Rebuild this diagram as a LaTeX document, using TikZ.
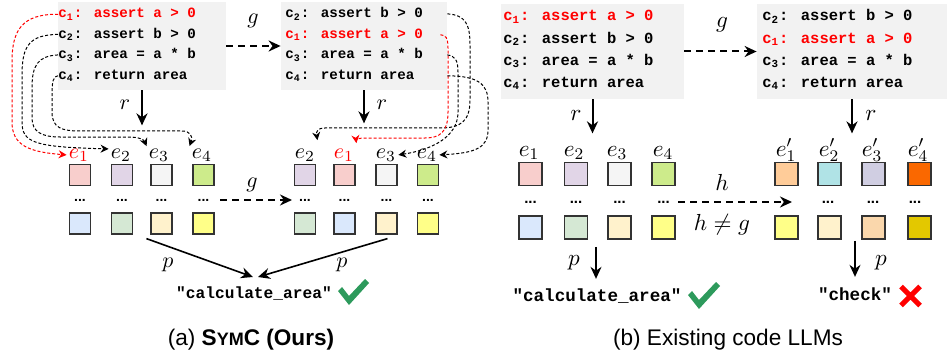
\RequirePackage{fix-cm}
\documentclass[tikz,border=0pt]{standalone}
\usepackage[no-math]{fontspec}
\setmainfont{Liberation Sans}
\newfontfamily\codefont{Liberation Mono}
\usetikzlibrary{arrows.meta,calc}

\definecolor{boxgray}{HTML}{F2F2F2}
\definecolor{sqedge}{HTML}{333333}
\definecolor{sqpink}{HTML}{F8CECC}
\definecolor{sqpurple}{HTML}{E1D5E7}
\definecolor{sqwhite}{HTML}{F5F5F5}
\definecolor{sqlime}{HTML}{CDEB8B}
\definecolor{sqblue}{HTML}{DAE8FC}
\definecolor{sqgreen}{HTML}{D5E8D4}
\definecolor{sqcream}{HTML}{FFF2CC}
\definecolor{sqyellow}{HTML}{FFFF88}
\definecolor{sqpeach}{HTML}{FFCC99}
\definecolor{sqcyan}{HTML}{B0E3E6}
\definecolor{sqlav}{HTML}{D0CEE2}
\definecolor{sqorange}{HTML}{FA6800}
\definecolor{sqtan}{HTML}{FAD7AC}
\definecolor{sqgold}{HTML}{E3C800}
\definecolor{okgreen}{HTML}{2D9A5C}
\definecolor{hotred}{HTML}{FF0000}

\tikzset{
  codebox/.style={fill=boxgray, draw=none, inner sep=0pt},
  codeA/.style={font=\codefont\bfseries\fontsize{7.1pt}{8.5pt}\selectfont, anchor=base west, inner sep=0pt},
  codeB/.style={font=\codefont\bfseries\fontsize{7.75pt}{9pt}\selectfont, anchor=base west, inner sep=0pt},
  outA/.style={font=\codefont\bfseries\fontsize{8.1pt}{9.5pt}\selectfont, anchor=base, inner sep=1pt},
  outB/.style={font=\codefont\bfseries\fontsize{8.8pt}{10pt}\selectfont, anchor=base, inner sep=1pt},
  sqA/.style={draw=sqedge, line width=0.6pt, minimum size=10.5pt, inner sep=0pt},
  sqB/.style={sqA, minimum size=11.5pt},
  dotsA/.style={font=\bfseries\fontsize{7pt}{8pt}\selectfont, anchor=base, inner sep=0pt},
  dotsB/.style={font=\bfseries\fontsize{7.5pt}{8pt}\selectfont, anchor=base, inner sep=0pt},
  mathA/.style={font=\fontsize{11pt}{13pt}\selectfont, anchor=base, inner sep=1pt},
  mathB/.style={font=\fontsize{11.6pt}{14pt}\selectfont, anchor=base, inner sep=1pt},
  link/.style={line width=0.5pt, dash pattern=on 1.5pt off 1pt, -{Stealth[length=4pt,width=4pt]}},
  mapto/.style={line width=1pt, -{Stealth[length=6pt,width=5.5pt]}},
  mapdash/.style={mapto, dash pattern=on 3.5pt off 2.5pt},
  proj/.style={line width=0.8pt, -{Stealth[length=6pt,width=5.5pt]}},
  capt/.style={font=\fontsize{11.3pt}{13.5pt}\selectfont, anchor=base, inner sep=0pt},
}

\begin{document}
\begin{tikzpicture}[x=0.5pt,y=-0.5pt]
\useasboundingbox (0,0) rectangle (947,358);

% ---------------- (a) SymC ----------------
% source program
\node[codebox, minimum width=84pt, minimum height=44pt] (box1) at (142,46) {};
\node[codeA, text=hotred] (L1) at (58,18)   {c\textsubscript{1}: assert a > 0};
\node[codeA] (L2) at (58,38.5) {c\textsubscript{2}: assert b > 0};
\node[codeA] (L3) at (58,59)   {c\textsubscript{3}: area = a * b};
\node[codeA] (L4) at (58,79.5) {c\textsubscript{4}: return area};

% permuted program
\node[codebox, minimum width=83pt, minimum height=44pt] (box2) at (364,46) {};
\node[codeA] (M1) at (285,18)   {c\textsubscript{2}: assert b > 0};
\node[codeA, text=hotred] (M2) at (285,38.5) {c\textsubscript{1}: assert a > 0};
\node[codeA] (M3) at (285,59)   {c\textsubscript{3}: area = a * b};
\node[codeA] (M4) at (285,79.5) {c\textsubscript{4}: return area};

\draw[mapdash] (box1.east) -- (box2.west);
\node[mathA] (gtopA) at (253,24) {$g$};

\draw[mapto] (box1.south) -- ++(0,35) coordinate (rA1);
\node[mathA] (rlA1) at (125,110) {$r$};
\draw[mapto] (box2.south) -- ++(0,33) coordinate (rA2);
\node[mathA] (rlA2) at (382,110) {$r$};

% embeddings of the source program
\foreach \n/\x/\ct/\cb in {1/80/sqpink/sqblue, 2/122/sqpurple/sqgreen, 3/161.5/sqwhite/sqcream, 4/203.5/sqlime/sqyellow}{
  \node[sqA, fill=\ct] (aT\n) at (\x,175) {};
  \node[dotsA] (aD\n) at (\x,201.5) {...};
  \node[sqA, fill=\cb] (aB\n) at (\x,223.5) {};
}
\node[mathA, text=hotred] (ea1) at (79,158) {$e_1$};
\node[mathA] (ea2) at (121,158) {$e_2$};
\node[mathA] (ea3) at (159,158) {$e_3$};
\node[mathA] (ea4) at (202,158) {$e_4$};

% embeddings of the permuted program
\foreach \n/\x/\ct/\cb in {1/305/sqpurple/sqgreen, 2/344.5/sqpink/sqblue, 3/386.5/sqwhite/sqcream, 4/428/sqlime/sqyellow}{
  \node[sqA, fill=\ct] (gT\n) at (\x,175) {};
  \node[dotsA] (gD\n) at (\x,201.5) {...};
  \node[sqA, fill=\cb] (gB\n) at (\x,223.5) {};
}
\node[mathA] (eg2) at (305,158) {$e_2$};
\node[mathA, text=hotred] (eg1) at (344,158) {$e_1$};
\node[mathA] (eg3) at (386,158) {$e_3$};
\node[mathA] (eg4) at (427,158) {$e_4$};

\coordinate (gl0) at (220,200);
\coordinate (gl1) at (292,200);
\draw[mapdash] (gl0) -- (gl1);
\node[mathA] (gbotA) at (252,187) {$g$};

% statement-to-embedding links, source program
\draw[link, hotred] (L1.west) .. controls (22,14) and (12,30) .. (12,62) -- (12,122)
  .. controls (12,146) and (30,152) .. (ea1.west);
\draw[link] (L2.west) .. controls (30,35) and (22,45) .. (22,75) -- (22,122)
  .. controls (22,143) and (35,147) .. ($(ea2.west)+(0,-6)$);
\draw[link] (L3.west) .. controls (38,56) and (32,65) .. (32,88) -- (32,118)
  .. controls (32,132) and (42,137) .. (60,137) -- (128,137)
  .. controls (140,137) and (144,140) .. (ea3.north west);
\draw[link] (L4.west) .. controls (53,76) and (52,82) .. (52,95) -- (52,112)
  .. controls (52,128) and (62,131) .. (80,131) -- (182,131)
  .. controls (190,131) and (193,136) .. (ea4.north west);

% statement-to-embedding links, permuted program
\draw[link] (box2.east |- M1.east) .. controls (466,15) and (470,25) .. (470,45) -- (470,100)
  .. controls (470,122) and (460,128) .. (440,128) -- (325,128)
  .. controls (318,128) and (316,131) .. ($(eg2.north east)+(0,-6)$);
\draw[link, hotred] ($(box2.east |- M2.east)+(-7,0)$) .. controls (446,35) and (448,38) .. (448,48) -- (448,112)
  .. controls (448,132) and (440,138) .. (425,138) -- (365,138)
  .. controls (358,138) and (356,140) .. ($(eg1.north east)+(0,-3)$);
\draw[link] (box2.east |- M3.east) .. controls (455,56) and (458,60) .. (458,72) -- (458,112)
  .. controls (458,138) and (430,150) .. (eg3.east);
\draw[link] (box2.east |- M4.east) .. controls (478,76) and (488,84) .. (488,102) -- (488,130)
  .. controls (488,148) and (475,153) .. (eg4.east);

% prediction
\node[outA] (outA) at (254,298) {"calculate\_area"};
\coordinate (pA0) at (253,277);
\coordinate (pA1) at (258,277);
\draw[proj] ($(aB3.south west)+(-4,4)$) -- (pA0);
\draw[proj] ($(gB3.south)+(1,4)$) -- (pA1);
\node[mathA] (plA1) at (168,267) {$p$};
\node[mathA] (plA2) at (342,267) {$p$};
\fill[okgreen] (338,291) -- (349,305) -- (369,283) -- (365,279) -- (349,296) -- (342,287) -- cycle;

\node[capt] (capA) at (251,345) {(a) \textbf{S{\fontsize{9pt}{10pt}\selectfont YM}C (Ours)}};

% ---------------- (b) Existing code LLMs ----------------
\node[codebox, minimum width=91.5pt, minimum height=47.5pt] (box3) at (592.5,51.5) {};
\node[codeB, text=hotred] (N1) at (503,21)   {c\textsubscript{1}: assert a > 0};
\node[codeB] (N2) at (503,43.2) {c\textsubscript{2}: assert b > 0};
\node[codeB] (N3) at (503,65.4) {c\textsubscript{3}: area = a * b};
\node[codeB] (N4) at (503,87.6) {c\textsubscript{4}: return area};

\node[codebox, minimum width=95pt, minimum height=47.5pt] (box4) at (852,51.5) {};
\node[codeB] (P1) at (762,21)   {c\textsubscript{2}: assert b > 0};
\node[codeB, text=hotred] (P2) at (762,43.2) {c\textsubscript{1}: assert a > 0};
\node[codeB] (P3) at (762,65.4) {c\textsubscript{3}: area = a * b};
\node[codeB] (P4) at (762,87.6) {c\textsubscript{4}: return area};

\draw[mapdash] (box3.east) -- (box4.west);
\node[mathB] (gtopB) at (722,27.5) {$g$};

\draw[mapto] (box3.south) -- ++(0,34) coordinate (rB1);
\node[mathB] (rlB1) at (576,120) {$r$};
\draw[mapto] (box4.south) -- ++(0,34) coordinate (rB2);
\node[mathB] (rlB2) at (871,120) {$r$};

\foreach \n/\x/\ct/\cb in {1/530.5/sqpink/sqblue, 2/576/sqpurple/sqgreen, 3/619.5/sqwhite/sqcream, 4/663.5/sqlime/sqyellow}{
  \node[sqB, fill=\ct] (bT\n) at (\x,174) {};
  \node[dotsB] (bD\n) at (\x,203.5) {...};
  \node[sqB, fill=\cb] (bB\n) at (\x,227.5) {};
}
\node[mathB] (eb1) at (529,156) {$e_1$};
\node[mathB] (eb2) at (574,156) {$e_2$};
\node[mathB] (eb3) at (617,156) {$e_3$};
\node[mathB] (eb4) at (663,156) {$e_4$};

\foreach \n/\x/\ct/\cb in {1/786.5/sqpeach/sqyellow, 2/829.5/sqcyan/sqcream, 3/873.5/sqlav/sqtan, 4/919.5/sqorange/sqgold}{
  \node[sqB, fill=\ct] (hT\n) at (\x,174) {};
  \node[sqB, fill=\cb] (hB\n) at (\x,227.5) {};
}
\foreach \n/\x in {2/828, 3/873, 4/915}{
  \node[dotsB] (hD\n) at (\x,203.5) {...};
}
\node[mathB] (eh1) at (786,156) {$e'_1$};
\node[mathB] (eh2) at (829,156) {$e'_2$};
\node[mathB] (eh3) at (872,156) {$e'_3$};
\node[mathB] (eh4) at (918,156) {$e'_4$};

\coordinate (hl0) at (678,202);
\coordinate (hl1) at (792,202);
\draw[mapdash] (hl0) -- (hl1);
\node[mathB] (hlab) at (722,190) {$h$};
\node[mathB] (hneq) at (722,230) {$h \neq g$};

\node[outB] (outB) at (597,301) {"calculate\_area"};
\node[outB] (outC) at (855,300) {"check"};
\draw[proj, line width=0.7pt] ($(outB.north)+(-1,-39)$) -- ($(outB.north)+(-1,-7)$);
\draw[proj, line width=0.7pt] ($(outC.north)+(0,-44)$) -- ($(outC.north)+(0,-8)$);
\node[mathB] (plB1) at (574,265) {$p$};
\node[mathB] (plB2) at (881,265) {$p$};
\fill[okgreen] (688,295) -- (699,309) -- (720,286) -- (716,282) -- (699,300) -- (692,291) -- cycle;
\draw[hotred, line width=2.6pt] (901,286.5) -- (920,305.5) (920,286.5) -- (901,305.5);

\node[capt] (capB) at (728,345) {(b) Existing code LLMs};
\end{tikzpicture}
\end{document}
